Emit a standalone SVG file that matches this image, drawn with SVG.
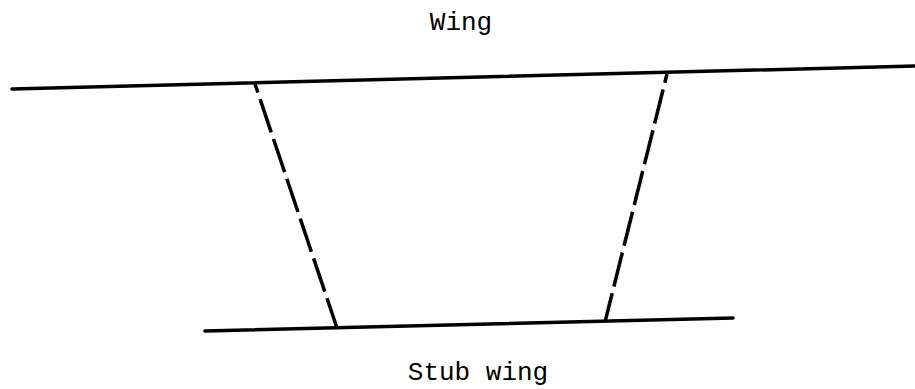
<svg xmlns="http://www.w3.org/2000/svg" width="915" height="389" viewBox="0 0 915 389">
<style>
.solid{stroke:#000;stroke-width:3.5;fill:none;stroke-linecap:round}
.dash{stroke:#000;stroke-width:3.5;fill:none;stroke-dasharray:35 7;stroke-dashoffset:26}
.lbl{font-family:"Liberation Mono",monospace;font-size:26px;fill:#000;text-anchor:middle}
</style>
<rect width="915" height="389" fill="#fff"/>
<g id="wing"><line class="solid" x1="12" y1="89" x2="915" y2="66"/><text class="lbl" x="461" y="30">Wing</text></g>
<g id="stub-wing"><line class="solid" x1="205" y1="331" x2="733" y2="318"/><text class="lbl" x="478" y="380">Stub wing</text></g>
<g id="connectors">
<line class="dash" x1="255" y1="84" x2="337" y2="328"/>
<line class="dash" x1="667" y1="74" x2="605" y2="322"/>
</g>
</svg>
